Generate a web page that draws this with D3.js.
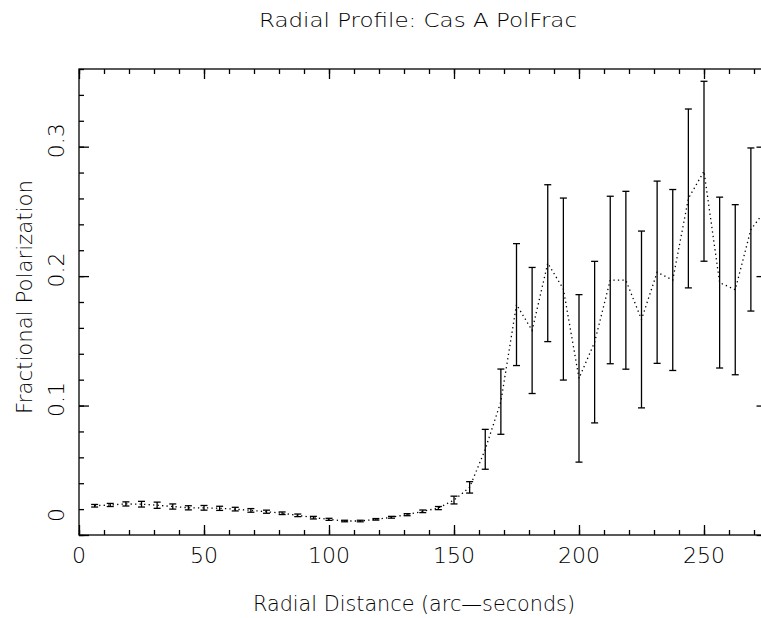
<!DOCTYPE html>
<html>
<head>
<meta charset="utf-8">
<script src="https://cdn.jsdelivr.net/npm/d3@7/dist/d3.min.js"></script>
<style>
  html, body { margin: 0; padding: 0; background: #fff; }
  svg { display: block; }
  text { font-family: "DejaVu Sans", sans-serif; font-weight: 200; fill: #000; }
</style>
</head>
<body>
<svg id="chart" width="761" height="618"></svg>
<script>
// Radial bins (arc-seconds), bin width 6.25
const radius = [
  6.25, 12.5, 18.75, 25, 31.25, 37.5, 43.75, 50, 56.25, 62.5, 68.75,
  75, 81.25, 87.5, 93.75, 100, 106.25, 112.5, 118.75, 125, 131.25,
  137.5, 143.75, 150, 156.25, 162.5, 168.75, 175, 181.25, 187.5,
  193.75, 200, 206.25, 212.5, 218.75, 225, 231.25, 237.5, 243.75,
  250, 256.25, 262.5, 268.75, 275
];
// Fractional polarization per bin
const polFrac = [
  0.0226, 0.0232, 0.0240, 0.0238, 0.0230, 0.0220, 0.0210, 0.0210,
  0.0206, 0.0200, 0.0190, 0.0180, 0.0168, 0.0152, 0.0134, 0.0121,
  0.0108, 0.0108, 0.0121, 0.0137, 0.0157, 0.0183, 0.0208, 0.0270,
  0.0368, 0.0662, 0.1030, 0.1780, 0.1580, 0.2100, 0.1900, 0.1210,
  0.1490, 0.1970, 0.1968, 0.1665, 0.2030, 0.1970, 0.2600, 0.2810,
  0.1950, 0.1895, 0.2360, 0.2520
];
// One-sigma uncertainty per bin
const polErr = [
  0.0010, 0.0012, 0.0016, 0.0022, 0.0024, 0.0020, 0.0016, 0.0018,
  0.0016, 0.0014, 0.0014, 0.0012, 0.0010, 0.0010, 0.0010, 0.0008,
  0.0006, 0.0006, 0.0006, 0.0007, 0.0008, 0.0010, 0.0012, 0.0030,
  0.0044, 0.0154, 0.0252, 0.0471, 0.0487, 0.0606, 0.0703, 0.0647,
  0.0624, 0.0647, 0.0687, 0.0683, 0.0704, 0.0699, 0.0691, 0.0695,
  0.0660, 0.0657, 0.0630, 0.0600
];
const xMajorTicks = [0, 50, 100, 150, 200, 250];
const yMajorTicks = [0, 0.1, 0.2, 0.3];
const yTickLabels = ["0", "0.1", "0.2", "0.3"];

const titleText = "Radial Profile: Cas A PolFrac";
const xTitle = "Radial Distance (arc\u2014seconds)";
const yTitle = "Fractional Polarization";

const svg = d3.select("#chart");
const plotL = 79, plotR = 766.5, plotT = 69, plotB = 535;

const x = d3.scaleLinear().domain([0, 275]).range([plotL, plotR]);
const y = d3.scaleLinear().domain([0, 0.36]).range([plotB, plotT]);

const xMinor = d3.range(0, 276, 10);
const yMinor = d3.range(0, 0.361, 0.02);

const axes = svg.append("g").attr("class", "axes");

// inward ticks on all four sides
function ticks(gen, tr, size, vals) {
  axes.append("g").attr("transform", tr)
    .call(gen.tickValues(vals).tickSize(size).tickSizeOuter(0).tickFormat(""))
    .call(g => g.select(".domain").remove())
    .call(g => g.selectAll("line").attr("stroke", "#000").attr("stroke-width", 1.3));
}
ticks(d3.axisBottom(x), `translate(0,${plotB})`, -5, xMinor);
ticks(d3.axisBottom(x), `translate(0,${plotB})`, -10, xMajorTicks);
ticks(d3.axisTop(x), `translate(0,${plotT})`, -5, xMinor);
ticks(d3.axisTop(x), `translate(0,${plotT})`, -10, xMajorTicks);
ticks(d3.axisLeft(y), `translate(${plotL},0)`, -5, yMinor);
ticks(d3.axisLeft(y), `translate(${plotL},0)`, -10, yMajorTicks);
ticks(d3.axisRight(y), `translate(${plotR},0)`, -5, yMinor);
ticks(d3.axisRight(y), `translate(${plotR},0)`, -10, yMajorTicks);

axes.append("rect")
  .attr("x", plotL).attr("y", plotT)
  .attr("width", plotR - plotL).attr("height", plotB - plotT)
  .attr("fill", "none").attr("stroke", "#000").attr("stroke-width", 1.3);

// tick labels
svg.append("g").selectAll("text").data(xMajorTicks).join("text")
  .attr("x", d => x(d)).attr("y", 563)
  .attr("text-anchor", "middle").attr("font-size", 22)
  .text(d => d);

svg.append("g").selectAll("text").data(yMajorTicks).join("text")
  .attr("transform", (d, i) => `translate(64,${y(d) - (i === 0 ? 20 : 6)}) rotate(-90)`)
  .attr("text-anchor", "middle").attr("font-size", 22)
  .text((d, i) => yTickLabels[i]);

// titles
svg.append("text").attr("x", 418).attr("y", 27)
  .attr("text-anchor", "middle").attr("font-size", 20)
  .attr("textLength", 318).attr("lengthAdjust", "spacingAndGlyphs")
  .text(titleText);
svg.append("text").attr("x", 414).attr("y", 611)
  .attr("text-anchor", "middle").attr("font-size", 21)
  .attr("textLength", 322).attr("lengthAdjust", "spacingAndGlyphs")
  .text(xTitle);
svg.append("text").attr("transform", "translate(32,297) rotate(-90)")
  .attr("text-anchor", "middle").attr("font-size", 21)
  .attr("textLength", 234).attr("lengthAdjust", "spacingAndGlyphs")
  .text(yTitle);

// data
const pts = radius.map((r, i) => ({ r, v: polFrac[i], e: polErr[i] }));
const plot = svg.append("g");

plot.append("path")
  .datum(pts)
  .attr("fill", "none").attr("stroke", "#000").attr("stroke-width", 1.3)
  .attr("stroke-dasharray", "1.3 3.2")
  .attr("d", d3.line().x(d => x(d.r)).y(d => y(d.v)));

const cap = 3.5;
const bars = plot.selectAll("g.err").data(pts).join("g").attr("class", "err")
  .attr("stroke", "#000").attr("stroke-width", 1.3);
bars.append("line")
  .attr("x1", d => x(d.r)).attr("x2", d => x(d.r))
  .attr("y1", d => y(d.v - d.e)).attr("y2", d => y(d.v + d.e));
bars.append("line")
  .attr("x1", d => x(d.r) - cap).attr("x2", d => x(d.r) + cap)
  .attr("y1", d => y(d.v - d.e)).attr("y2", d => y(d.v - d.e));
bars.append("line")
  .attr("x1", d => x(d.r) - cap).attr("x2", d => x(d.r) + cap)
  .attr("y1", d => y(d.v + d.e)).attr("y2", d => y(d.v + d.e));
</script>
</body>
</html>
